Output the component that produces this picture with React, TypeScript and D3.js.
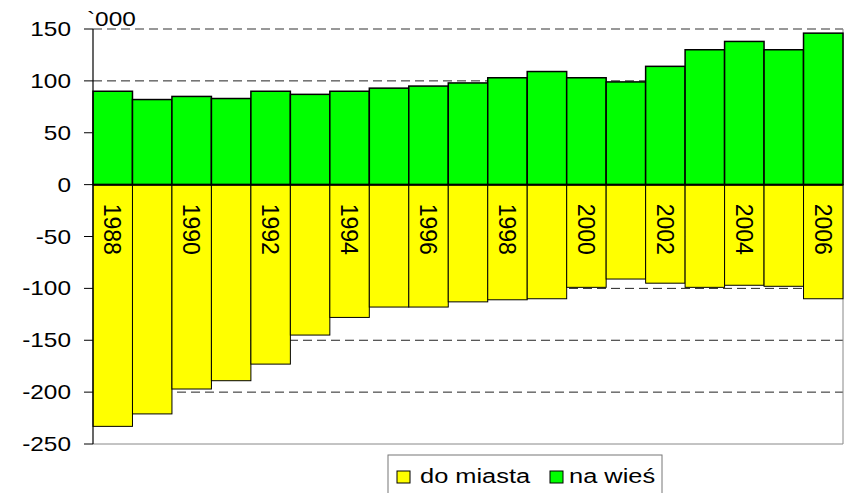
import React, { useEffect } from "react"
import * as d3 from "d3"

// years on the category axis
const years = [
  "1988", "1989", "1990", "1991", "1992", "1993", "1994", "1995", "1996", "1997",
  "1998", "1999", "2000", "2001", "2002", "2003", "2004", "2005", "2006",
]
// migration to the countryside, thousands
const naWies = [90, 82, 85, 83, 90, 87, 90, 93, 95, 98, 103, 109, 103, 99, 114, 130, 138, 130, 146]
// migration to towns, thousands (negative)
const doMiasta = [-233, -221, -197, -189, -173, -145, -128, -118, -118, -113, -111, -110, -99, -91, -95, -99, -97, -98, -110]
const yTicks = [150, 100, 50, 0, -50, -100, -150, -200, -250]
const gridValues = [150, 100, 50, -50, -100, -150, -200]

const W = 848
const H = 493
const FONT = "'Liberation Sans', Arial, sans-serif"

export default function App() {
  useEffect(() => {
    document.body.style.margin = "0"
  }, [])

  const x = d3.scaleBand<string>().domain(years).range([93, 843]).paddingInner(0).paddingOuter(0)
  const y = d3.scaleLinear().domain([-250, 150]).range([444, 29])
  const bw = x.bandwidth()
  const stretch = 1.22

  return (
    <svg width={W} height={H} style={{ display: "block", fontFamily: FONT }}>
      <rect width={W} height={H} fill="#fff" />

      {/* grid */}
      {gridValues.map((v) => (
        <line
          key={v}
          x1={93}
          x2={843}
          y1={y(v)}
          y2={y(v)}
          stroke={v === 150 ? "#777" : "#222"}
          strokeWidth={v === 150 ? 1.6 : 1}
          strokeDasharray="9,5"
        />
      ))}
      {/* plot border */}
      <line x1={93} x2={843} y1={y(-250)} y2={y(-250)} stroke="#888" />
      <line x1={843} x2={843} y1={y(150)} y2={y(-250)} stroke="#888" />

      {/* bars */}
      {years.map((yr, i) => (
        <g key={yr}>
          <rect
            x={x(yr)}
            y={y(0)}
            width={bw}
            height={y(doMiasta[i]) - y(0)}
            fill="#ffff00"
            stroke="#000"
            strokeWidth={1}
          />
          <rect
            x={x(yr)}
            y={y(naWies[i])}
            width={bw}
            height={y(0) - y(naWies[i])}
            fill="#00ff00"
            stroke="#000"
            strokeWidth={1.5}
          />
        </g>
      ))}
      <line x1={93} x2={843} y1={y(0)} y2={y(0)} stroke="#000" strokeWidth={2} />

      {/* year labels inside yellow bars */}
      {years.map((yr, i) =>
        i % 2 === 0 ? (
          <text
            key={"l" + yr}
            transform={`translate(${(x(yr) as number) + bw / 2},${y(0) + 19}) rotate(90)`}
            dy="0.36em"
            fontSize={23}
            fill="#000"
          >
            {yr}
          </text>
        ) : null
      )}

      {/* y axis */}
      <line x1={93} x2={93} y1={y(150)} y2={y(-250)} stroke="#000" strokeWidth={1.2} />
      {yTicks.map((t) => (
        <g key={"t" + t}>
          <line x1={84} x2={93} y1={y(t)} y2={y(t)} stroke="#000" />
          <text
            transform={`translate(71,${y(t) + 7}) scale(${stretch},1)`}
            textAnchor="end"
            fontSize={20}
            fill="#000"
          >
            {t}
          </text>
        </g>
      ))}
      <text transform={`translate(87,26) scale(${stretch},1)`} fontSize={20} fill="#000">
        `000
      </text>

      {/* legend */}
      <rect x={388} y={455} width={274} height={50} fill="#fff" stroke="#777" />
      <rect x={397} y={471} width={13} height={12} fill="#ffff00" stroke="#000" />
      <text transform={`translate(420,483) scale(1.27,1)`} fontSize={20} fill="#000">
        do miasta
      </text>
      <rect x={550} y={471} width={13} height={12} fill="#00ff00" stroke="#000" />
      <text transform={`translate(569,483) scale(1.27,1)`} fontSize={20} fill="#000">
        na wieś
      </text>
    </svg>
  )
}
